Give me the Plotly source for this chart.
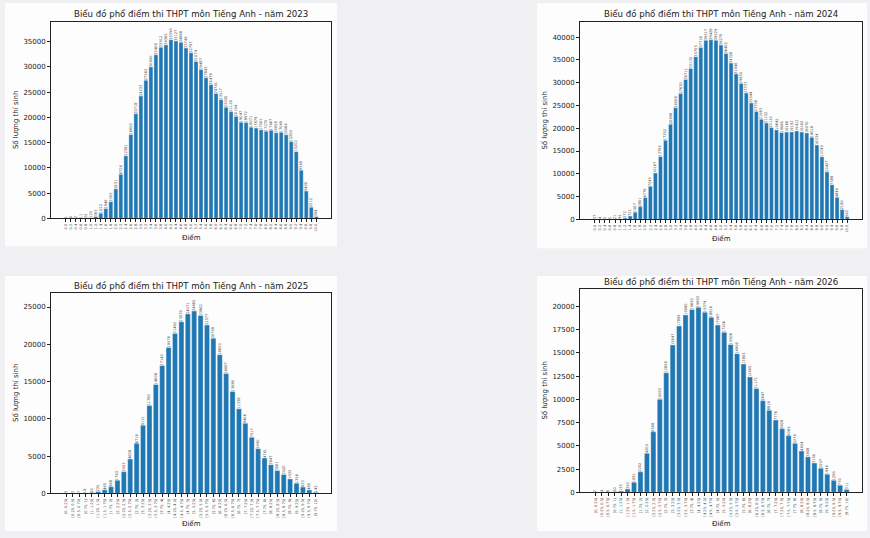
import plotly.graph_objects as go

W, H = 870, 538

scores_02 = ["0.0", "0.2", "0.4", "0.6", "0.8", "1.0", "1.2", "1.4", "1.6", "1.8",
             "2.0", "2.2", "2.4", "2.6", "2.8", "3.0", "3.2", "3.4", "3.6", "3.8",
             "4.0", "4.2", "4.4", "4.6", "4.8", "5.0", "5.2", "5.4", "5.6", "5.8",
             "6.0", "6.2", "6.4", "6.6", "6.8", "7.0", "7.2", "7.4", "7.6", "7.8",
             "8.0", "8.2", "8.4", "8.6", "8.8", "9.0", "9.2", "9.4", "9.6", "9.8", "10.0"]

bins_025 = ["[0, 0.25)", "[0.25, 0.5)", "[0.5, 0.75)", "[0.75, 1)", "[1, 1.25)",
            "[1.25, 1.5)", "[1.5, 1.75)", "[1.75, 2)", "[2, 2.25)", "[2.25, 2.5)",
            "[2.5, 2.75)", "[2.75, 3)", "[3, 3.25)", "[3.25, 3.5)", "[3.5, 3.75)",
            "[3.75, 4)", "[4, 4.25)", "[4.25, 4.5)", "[4.5, 4.75)", "[4.75, 5)",
            "[5, 5.25)", "[5.25, 5.5)", "[5.5, 5.75)", "[5.75, 6)", "[6, 6.25)",
            "[6.25, 6.5)", "[6.5, 6.75)", "[6.75, 7)", "[7, 7.25)", "[7.25, 7.5)",
            "[7.5, 7.75)", "[7.75, 8)", "[8, 8.25)", "[8.25, 8.5)", "[8.5, 8.75)",
            "[8.75, 9)", "[9, 9.25)", "[9.25, 9.5)", "[9.5, 9.75)", "[9.75, 10]"]

counts_2023 = [1, 0, 2, 11, 35, 125, 383, 1022, 1946, 3305,
               5831, 8724, 12381, 16600, 20718, 24233, 27362, 30000, 32408, 33912,
               34365, 35390, 35127, 34868, 33749, 32797, 31074, 29487, 27843, 26478,
               24741, 23517, 22030, 21128, 20194, 19047, 18972, 18071, 17879, 17561,
               17270, 17467, 16958, 17049, 16566, 15209, 13202, 9549, 5400, 2212, 394]

counts_2024 = [37, 4, 3, 5, 21, 95, 272, 721, 1567, 2801,
               4778, 7245, 10167, 13785, 17352, 20898, 24508, 27630, 30711, 33135,
               35705, 37718, 39317, 39428, 39329, 38270, 36402, 34326, 31946, 29855,
               27737, 25544, 23708, 21983, 21152, 20132, 19645, 19066, 19166, 19192,
               19412, 19162, 18970, 18018, 16334, 13749, 10427, 7588, 4844, 2180, 562]

counts_2025 = [3, 3, 7, 18, 60, 235, 465, 868, 1763, 2903,
               4608, 6718, 9131, 11780, 14608, 17140, 19576, 21462, 23039, 24071,
               24465, 23862, 22577, 20799, 18603, 16067, 13680, 11338, 9406, 7517,
               5990, 4741, 3847, 3061, 2520, 1935, 1356, 833, 460, 142]

counts_2026 = [2, 4, 8, 50, 135, 350, 1081, 2202, 4205, 6508,
               10003, 12858, 15847, 17899, 19080, 19650, 19893, 19374, 18816, 17987,
               17206, 15906, 14906, 13805, 12400, 11171, 9847, 8818, 7776, 6828,
               6085, 5274, 4454, 3808, 3150, 2597, 1944, 1290, 770, 311]

years = ["2023", "2024", "2025", "2026"]
title_tpl = "Biểu đồ phổ điểm thi THPT môn Tiếng Anh - năm {}"

panels = [
    dict(cats=scores_02, vals=counts_2023, year="2023", ax=(51, 331), ay=(22, 220),
         dtick=5000, card=(5, 3, 337, 248), title_y=14, xlab_y=239),
    dict(cats=scores_02, vals=counts_2024, year="2024", ax=(580, 862), ay=(22, 221),
         dtick=5000, card=(537, 3, 867, 250), title_y=14, xlab_y=240),
    dict(cats=bins_025, vals=counts_2025, year="2025", ax=(51, 331), ay=(295, 497),
         dtick=5000, card=(5, 278, 337, 535), title_y=288, xlab_y=527),
    dict(cats=bins_025, vals=counts_2026, year="2026", ax=(580, 862), ay=(291, 496),
         dtick=2500, card=(537, 278, 867, 535), title_y=284, xlab_y=527),
]

FONT = "DejaVu Sans"
fig = go.Figure()
shapes = []
annotations = []
layout_axes = {}

for i, p in enumerate(panels):
    n = i + 1
    xa = "x" if n == 1 else f"x{n}"
    ya = "y" if n == 1 else f"y{n}"
    xkey = "xaxis" if n == 1 else f"xaxis{n}"
    ykey = "yaxis" if n == 1 else f"yaxis{n}"

    fig.add_trace(go.Bar(
        x=p["cats"], y=p["vals"], xaxis=xa, yaxis=ya,
        marker=dict(color="#1f77b4", line=dict(color="white", width=0.4)),
        text=[str(v) for v in p["vals"]], textposition="outside", textangle=-90,
        textfont=dict(size=3.6, color="#444", family=FONT),
        constraintext="none", cliponaxis=False, showlegend=False,
        hoverinfo="x+y",
    ))

    nb = len(p["cats"])
    span = (nb - 1) + 0.8
    marg = 0.05 * span
    x0, x1 = p["ax"]
    y0, y1 = p["ay"]
    ymax = max(p["vals"]) * 1.1

    layout_axes[xkey] = dict(
        domain=[x0 / W, x1 / W], anchor=ya, type="category",
        range=[-0.4 - marg, nb - 1 + 0.4 + marg],
        showline=True, mirror=True, linecolor="#222", linewidth=0.8,
        ticks="outside", ticklen=3, tickwidth=0.6, tickcolor="#222",
        tickangle=-90, tickfont=dict(size=3.6, color="#444", family=FONT),
        showgrid=False, zeroline=False, fixedrange=True,
    )
    layout_axes[ykey] = dict(
        domain=[1 - y1 / H, 1 - y0 / H], anchor=xa,
        range=[0, ymax], dtick=p["dtick"], tick0=0, tickformat="d",
        showline=True, mirror=True, linecolor="#222", linewidth=0.8,
        ticks="outside", ticklen=3, tickwidth=0.6, tickcolor="#222",
        tickfont=dict(size=7, color="#222", family=FONT),
        showgrid=False, zeroline=False, fixedrange=True,
    )

    cx0, cy0, cx1, cy1 = p["card"]
    shapes.append(dict(type="rect", xref="paper", yref="paper",
                       x0=cx0 / W, x1=cx1 / W, y0=1 - cy1 / H, y1=1 - cy0 / H,
                       fillcolor="#fdfdfd", line=dict(width=0), layer="below"))

    xc = (x0 + x1) / 2
    annotations.append(dict(text=title_tpl.format(p["year"]), xref="paper", yref="paper",
                            x=xc / W, y=1 - p["title_y"] / H, showarrow=False,
                            xanchor="center", yanchor="middle",
                            font=dict(size=8.6, color="#222", family=FONT)))
    annotations.append(dict(text="Điểm", xref="paper", yref="paper",
                            x=xc / W, y=1 - p["xlab_y"] / H, showarrow=False,
                            xanchor="center", yanchor="middle",
                            font=dict(size=7, color="#222", family=FONT)))
    annotations.append(dict(text="Số lượng thí sinh", xref="paper", yref="paper",
                            x=(x0 - 35) / W, y=1 - ((y0 + y1) / 2) / H, showarrow=False,
                            xanchor="center", yanchor="middle", textangle=-90,
                            font=dict(size=7, color="#222", family=FONT)))

fig.update_layout(
    width=W, height=H, margin=dict(l=0, r=0, t=0, b=0),
    paper_bgcolor="#f0eff2", plot_bgcolor="white",
    bargap=0.2, shapes=shapes, annotations=annotations,
    font=dict(family=FONT),
    **layout_axes,
)

fig.write_html("out.html")
